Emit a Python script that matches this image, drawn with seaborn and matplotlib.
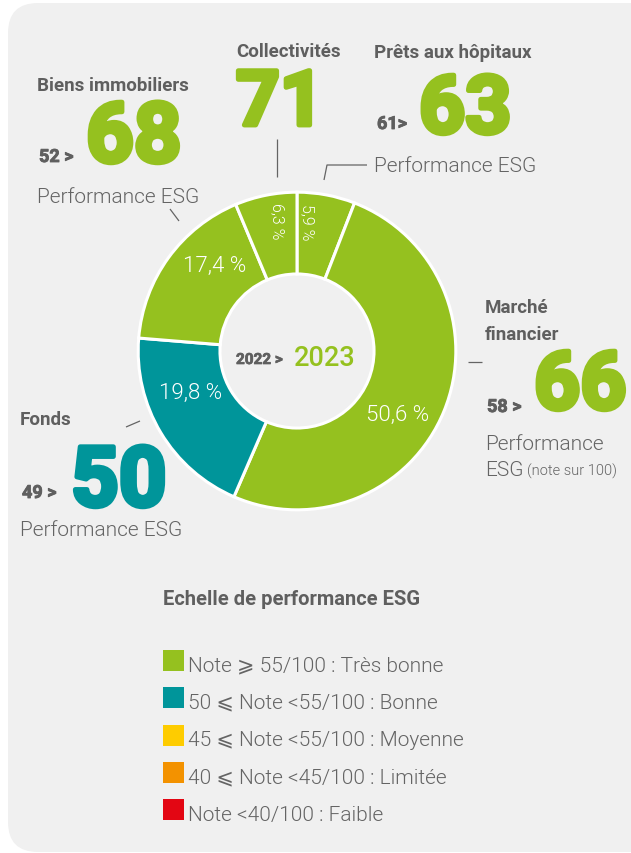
import matplotlib
matplotlib.use("Agg")
import matplotlib.pyplot as plt
import matplotlib.patheffects as pe
import seaborn as sns
import numpy as np
from matplotlib.patches import FancyBboxPatch, Rectangle

# --- data -------------------------------------------------------------
segments = ["Prêts aux hôpitaux", "Marché financier", "Fonds",
            "Biens immobiliers", "Collectivités"]
shares = [5.9, 50.6, 19.8, 17.4, 6.3]            # % of the portfolio
score_2022 = [61, 58, 49, 52, None]
score_2023 = [63, 66, 50, 68, 71]
score_class = [0, 0, 1, 0, 0]                     # index into the ESG scale

scale_title = "Echelle de performance ESG"
scale_labels = ["Note ⩾ 55/100 : Très bonne",
                "50 ⩽ Note <55/100 : Bonne",
                "45 ⩽ Note <55/100 : Moyenne",
                "40 ⩽ Note <45/100 : Limitée",
                "Note <40/100 : Faible"]
scale_colors = ["#95c11f", "#00959a", "#fecc00", "#f39200", "#e30613"]

# --- style ------------------------------------------------------------
sns.set_theme(style="white")
plt.rcParams["font.family"] = ["Roboto", "DejaVu Sans"]
GRAY = "#5f5f5f"
LIGHT = "#646464"
PANEL = "#f0f0f0"
THIN = 340          # Roboto Light, but DejaVu Sans Book for fallback glyphs
W, H = 631, 854

fig = plt.figure(figsize=(W / 100, H / 100), dpi=100, facecolor="white")

# background panel (pixel coordinates)
bg = fig.add_axes([0, 0, 1, 1], zorder=0)
bg.set_xlim(0, W)
bg.set_ylim(H, 0)
bg.axis("off")
bg.add_patch(FancyBboxPatch((8, 4), 660, 849, boxstyle="round,pad=0,rounding_size=30",
                            fc=PANEL, ec="none"))

# donut
cx, cy, R = 297, 352, 162
ax = fig.add_axes([(cx - R) / W, (H - cy - R) / H, 2 * R / W, 2 * R / H], zorder=1)
wedge_colors = [scale_colors[c] for c in score_class]
wedges, _ = ax.pie(shares, colors=wedge_colors, startangle=90, counterclock=False,
                   radius=1, wedgeprops=dict(width=0.515, edgecolor="white", linewidth=2.2))
ax.set_xlim(-1.02, 1.02)
ax.set_ylim(-1.02, 1.02)
ax.set_aspect("equal")
ax.axis("off")

# percentage labels (angle offset, radius, rotation, size)
label_layout = [(6.3, 0.82, -90, 11.5), (-10, 0.75, 0, 16), (-9.5, 0.72, 0, 16),
                (-10, 0.75, 0, 16), (-2.8, 0.83, -90, 11.5)]
for w, v, (da, r, rot, fs) in zip(wedges, shares, label_layout):
    a = np.deg2rad((w.theta1 + w.theta2) / 2 + da)
    ax.text(r * np.cos(a), r * np.sin(a), f"{v:.1f} %".replace(".", ","),
            color="white", fontsize=fs, fontweight=THIN, rotation=rot,
            ha="center", va="center")

# overlay for annotations (pixel coordinates)
ov = fig.add_axes([0, 0, 1, 1], zorder=2)
ov.set_xlim(0, W)
ov.set_ylim(H, 0)
ov.axis("off")
ov.patch.set_alpha(0)

def line(xs, ys):
    ov.plot(xs, ys, color=LIGHT, lw=0.9, solid_capstyle="butt")

line([277, 277], [140, 178])
line([324, 327, 367], [181, 166, 166])
line([468, 482], [363, 363])
line([126, 140], [428, 422])
line([170, 179], [210, 222])

def name(x, y, s, size=13.5):
    ov.text(x, y, s, color=GRAY, fontsize=size, fontweight="bold", va="baseline", ha="left")

def big(x, y, v, color, size=60):
    ov.text(x, y, str(v), color=color, fontsize=size, fontweight="bold",
            va="baseline", ha="left",
            path_effects=[pe.withStroke(linewidth=3.5, foreground=color)])

def old(x, y, v, sep=" >"):
    ov.text(x, y, f"{v}{sep}", color=GRAY, fontsize=13, fontweight="bold",
            va="baseline", ha="left",
            path_effects=[pe.withStroke(linewidth=0.6, foreground=GRAY)])

def perf(x, y, s="Performance ESG", size=15):
    ov.text(x, y, s, color=LIGHT, fontsize=size, fontweight=THIN, va="baseline", ha="left")

col = {s: scale_colors[c] for s, c in zip(segments, score_class)}
s23 = dict(zip(segments, score_2023))
s22 = dict(zip(segments, score_2022))

# Biens immobiliers
name(37, 91, "Biens immobiliers")
old(39, 163, s22["Biens immobiliers"])
big(86, 163, s23["Biens immobiliers"], col["Biens immobiliers"], size=60)
perf(37, 203)

# Collectivités
name(236, 57, "Collectivités")
big(236, 126, s23["Collectivités"], col["Collectivités"], size=55)

# Prêts aux hôpitaux
name(374, 58, "Prêts aux hôpitaux")
old(377, 130, s22["Prêts aux hôpitaux"], sep=">")
big(419, 134, s23["Prêts aux hôpitaux"], col["Prêts aux hôpitaux"], size=58)
perf(374, 172)

# Marché financier
name(485, 313, "Marché")
name(485, 340, "financier")
old(487, 413, s22["Marché financier"])
big(534, 410, s23["Marché financier"], col["Marché financier"], size=58)
perf(485, 450, "Performance")
perf(485, 476, "ESG")
perf(527, 476, "(note sur 100)", size=10.5)

# Fonds
name(20, 425, "Fonds")
old(22, 499, s22["Fonds"])
big(71, 507, s23["Fonds"], col["Fonds"], size=60)
perf(20, 536)

# centre
ov.text(236, 365, "2022 >", color=GRAY, fontsize=11, fontweight="bold",
        va="baseline", ha="left",
        path_effects=[pe.withStroke(linewidth=0.5, foreground=GRAY)])
ov.text(294, 366, "2023", color=scale_colors[0], fontsize=19.5, fontweight="medium",
        va="baseline", ha="left")

# ESG scale
ov.text(163, 605, scale_title, color=GRAY, fontsize=14.5, fontweight="bold",
        va="baseline", ha="left")
for i, (lab, c) in enumerate(zip(scale_labels, scale_colors)):
    top = 651 + i * 37.3
    ov.add_patch(Rectangle((163, top), 21, 21, fc=c, ec="none"))
    ov.text(188, top + 20.5, lab, color=LIGHT, fontsize=15, fontweight=THIN,
            va="baseline", ha="left")

fig.savefig("out.png", dpi=100, facecolor="white")
